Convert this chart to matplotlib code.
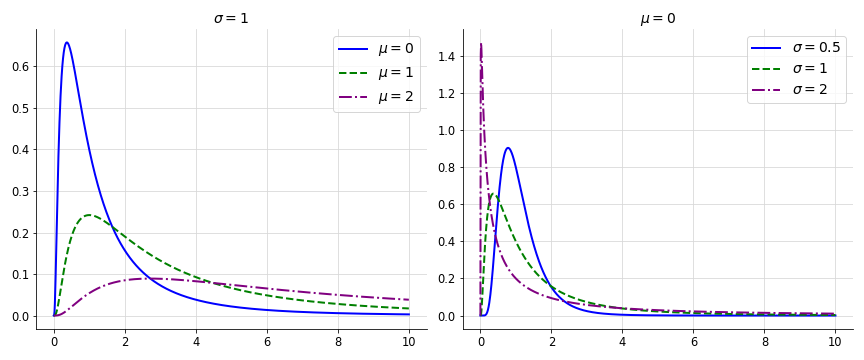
import numpy as np
import matplotlib
matplotlib.use("Agg")
import matplotlib.pyplot as plt

# log-normal parameters read from the legends / titles
left_sigma = 1
left_mus = [0, 1, 2]
right_mu = 0
right_sigmas = [0.5, 1, 2]

colors = ["blue", "green", "purple"]
styles = ["-", "--", "-."]

x = np.linspace(0, 10, 1000)


def lognorm_pdf(x, mu, sigma):
    out = np.zeros_like(x)
    m = x > 0
    out[m] = np.exp(-(np.log(x[m]) - mu) ** 2 / (2 * sigma ** 2)) / (x[m] * sigma * np.sqrt(2 * np.pi))
    return out


fig, axs = plt.subplots(1, 2, figsize=(12, 5), dpi=72)

for mu, c, ls in zip(left_mus, colors, styles):
    axs[0].plot(x, lognorm_pdf(x, mu, left_sigma), color=c, ls=ls, lw=2, label=r"$\mu = %g$" % mu)
axs[0].set_title(r"$\sigma = %g$" % left_sigma, fontsize=14)

for s, c, ls in zip(right_sigmas, colors, styles):
    axs[1].plot(x, lognorm_pdf(x, right_mu, s), color=c, ls=ls, lw=2, label=r"$\sigma = %g$" % s)
axs[1].set_title(r"$\mu = %g$" % right_mu, fontsize=14)

for ax in axs:
    ax.grid(True, color="#d8d8d8", lw=0.8)
    ax.set_axisbelow(True)
    ax.spines["top"].set_visible(False)
    ax.spines["right"].set_visible(False)
    ax.tick_params(labelsize=11.5)
    ax.legend(fontsize=14, loc="upper right")

plt.tight_layout()
plt.savefig("out.png", dpi=72)
